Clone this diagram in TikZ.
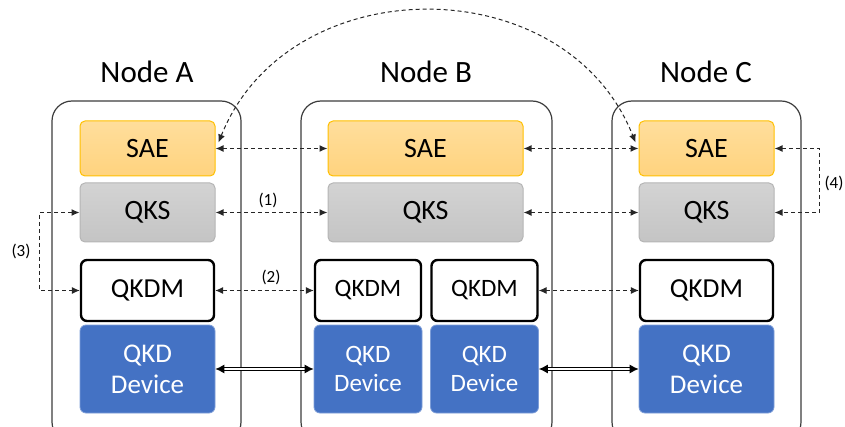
\documentclass[tikz,border=0pt]{standalone}
\usepackage{fontspec}
\setmainfont{Carlito}
\usetikzlibrary{arrows.meta,calc}
\definecolor{saeborder}{HTML}{FFC000}
\definecolor{saetop}{HTML}{FFDE9C}
\definecolor{saebot}{HTML}{FFD37E}
\definecolor{qkstop}{HTML}{D3D3D3}
\definecolor{qksbot}{HTML}{C4C4C4}
\definecolor{qksborder}{HTML}{B5B5B5}
\definecolor{devblue}{HTML}{4472C4}
\definecolor{devborder}{HTML}{7E9ED8}
\definecolor{outline}{HTML}{3C3C3C}
\definecolor{arrowc}{HTML}{262626}
\tikzset{
  nodebox/.style={draw=outline, line width=1.2pt, rounded corners=20pt},
  nodetitle/.style={font=\fontsize{31}{33}\selectfont, inner sep=0pt},
  saebox/.style={draw=saeborder, line width=1pt, top color=saetop, bottom color=saebot, rounded corners=5pt, minimum width=135pt, minimum height=55pt, inner sep=0pt, font=\fontsize{28}{30}\selectfont},
  qksbox/.style={draw=qksborder, line width=1pt, top color=qkstop, bottom color=qksbot, rounded corners=5pt, minimum height=59pt, inner sep=0pt, font=\fontsize{28}{30}\selectfont},
  qkdmbox/.style={draw=black, line width=2.4pt, fill=white, rounded corners=6pt, minimum height=61pt, inner sep=0pt},
  devbox/.style={draw=devborder, line width=0.8pt, fill=devblue, text=white, rounded corners=6pt, minimum height=88pt, inner sep=0pt, align=center},
  dasharrow/.style={draw=arrowc, line width=1.2pt, dash pattern=on 4pt off 3pt, {Latex[length=8pt,width=7pt]}-{Latex[length=8pt,width=7pt]}},
  dblarrow/.style={draw=black, line width=0.9pt, double=white, double distance=2pt, {Latex[length=9pt,width=9pt]}-{Latex[length=9pt,width=9pt]}},
  numlabel/.style={font=\fontsize{17}{19}\selectfont, inner sep=0pt}
}
\begin{document}
\begin{tikzpicture}[x=1pt,y=-1pt]
\useasboundingbox (0,0) rectangle (845,427);
\clip (0,0) rectangle (845,427);
% outer node boxes
\draw[nodebox] (52,101) rectangle (241,442);
\draw[nodebox] (301,101) rectangle (552,442);
\draw[nodebox] (612,101) rectangle (801,442);
\node[nodetitle] (tA) at (147,72) {Node A};
\node[nodetitle] (tB) at (426,72) {Node B};
\node[nodetitle] (tC) at (706,72) {Node C};
% Node A
\node[saebox] (saeA) at (147.5,148.5) {SAE};
\node[qksbox, minimum width=135pt] (qksA) at (147.5,212.5) {QKS};
\node[qkdmbox, minimum width=133pt, font=\fontsize{27.5}{30}\selectfont] (qkdmA) at (147.5,290.5) {QKDM};
\node[devbox, minimum width=135pt, font=\fontsize{27}{31}\selectfont] (devA) at (147.5,369) {QKD\\Device};
% Node B
\node[saebox, minimum width=195pt] (saeB) at (425.5,148.5) {SAE};
\node[qksbox, minimum width=195pt] (qksB) at (425.5,212.5) {QKS};
\node[qkdmbox, minimum width=106pt, font=\fontsize{25}{28}\selectfont] (qkdmB1) at (368,290.5) {QKDM};
\node[qkdmbox, minimum width=106pt, font=\fontsize{25}{28}\selectfont] (qkdmB2) at (484.5,290.5) {QKDM};
\node[devbox, minimum width=108pt, font=\fontsize{25}{28.5}\selectfont] (devB1) at (368,369) {QKD\\Device};
\node[devbox, minimum width=108pt, font=\fontsize{25}{28.5}\selectfont] (devB2) at (484.5,369) {QKD\\Device};
% Node C
\node[saebox] (saeC) at (706.5,148.5) {SAE};
\node[qksbox, minimum width=135pt] (qksC) at (706.5,212.5) {QKS};
\node[qkdmbox, minimum width=133pt, font=\fontsize{27.5}{30}\selectfont] (qkdmC) at (706.5,290.5) {QKDM};
\node[devbox, minimum width=135pt, font=\fontsize{27}{31}\selectfont] (devC) at (706.5,369) {QKD\\Device};
% horizontal connectors
\draw[dasharrow] (saeA.east) -- (saeB.west);
\draw[dasharrow] (saeB.east) -- (saeC.west);
\draw[dasharrow] (qksA.east) -- (qksB.west);
\draw[dasharrow] (qksB.east) -- (qksC.west);
\draw[dasharrow, line width=1pt] (qkdmA.east) -- (qkdmB1.west);
\draw[dasharrow, line width=1pt] (qkdmB2.east) -- (qkdmC.west);
\draw[dblarrow] (devA.east) -- (devB1.west);
\draw[dblarrow] (devB2.east) -- (devC.west);
\node[numlabel] (l1) at (268,200) {(1)};
\node[numlabel] (l2) at (271,277) {(2)};
% loop connectors
\draw[dasharrow, line width=1pt] (qksA.west) -- ++(-40,0) |- (qkdmA.west);
\node[numlabel] (l3) at (21,251) {(3)};
\draw[dasharrow] (saeC.east) -- ++(45,0) |- (qksC.east);
\node[numlabel] (l4) at (834,183) {(4)};
% arc between SAE A and SAE C
\coordinate (arcS) at ([xshift=3pt,yshift=6pt]saeA.east);
\coordinate (arcE) at ([xshift=-3pt,yshift=6pt]saeC.west);
\draw[dasharrow, line width=1pt] (arcS) .. controls (289,-33) and (566,-33) .. (arcE);
\end{tikzpicture}
\end{document}
